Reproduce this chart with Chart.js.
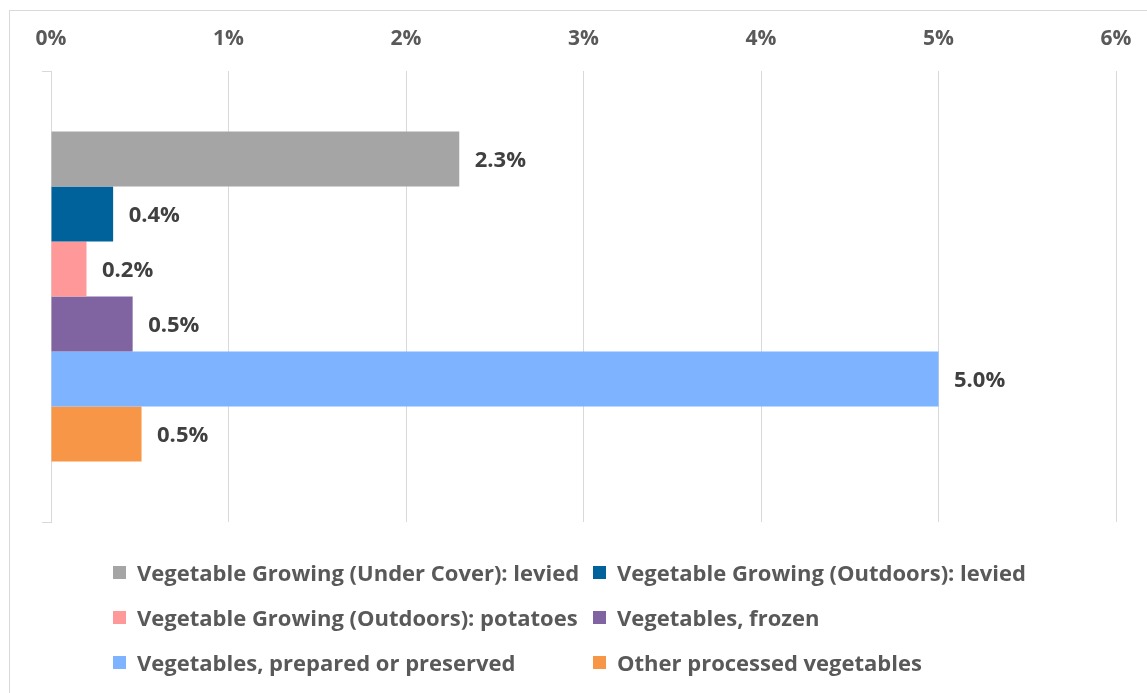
<!DOCTYPE html>
<html>
<head>
<meta charset="utf-8">
<script src="https://cdn.jsdelivr.net/npm/chart.js@4/dist/chart.umd.min.js"></script>
<style>
  html, body { margin: 0; padding: 0; background: #ffffff; }
  #wrap { position: relative; width: 1147px; height: 693px; overflow: hidden; font-family: "Open Sans", sans-serif; }
  #frame { position: absolute; left: 9px; top: 10px; width: 1300px; height: 900px; border: 1px solid #d9d9d9; box-sizing: border-box; }
  #chart { position: absolute; left: 0; top: 0; }
  #legend { position: absolute; left: 0; top: 0; width: 1147px; height: 693px; pointer-events: none; }
  .item { position: absolute; display: flex; align-items: center; transform: translateY(-50%);
          font-weight: 700; font-size: 22px; color: #595959; white-space: nowrap; }
  .box { width: 13px; height: 13px; margin-right: 11px; flex: none; }
</style>
</head>
<body>
<div id="wrap">
  <div id="frame"></div>
  <canvas id="chart" width="1147" height="693"></canvas>
  <div id="legend"></div>
</div>
<script>
// Levy share by sector
const categories = [''];
const seriesNames = [
  'Vegetable Growing (Under Cover): levied',
  'Vegetable Growing (Outdoors): levied',
  'Vegetable Growing (Outdoors): potatoes',
  'Vegetables, frozen',
  'Vegetables, prepared or preserved',
  'Other processed vegetables'
];
const seriesValues = [2.3, 0.35, 0.2, 0.46, 5.0, 0.51];
const seriesColors = ['#A5A5A5', '#00629B', '#FF9999', '#8064A2', '#7EB3FF', '#F79646'];
const tickLabels = ['0%', '1%', '2%', '3%', '4%', '5%', '6%'];

const FONT = '"Open Sans", sans-serif';
const fmtPct = v => (Math.round(v * 10 + 1e-6) / 10).toFixed(1) + '%';

// Value labels to the right of each bar
const valueLabels = {
  id: 'valueLabels',
  afterDatasetsDraw(chart) {
    const ctx = chart.ctx;
    ctx.save();
    ctx.font = 'bold 22px ' + FONT;
    ctx.fillStyle = '#404040';
    ctx.textAlign = 'left';
    ctx.textBaseline = 'middle';
    chart.data.datasets.forEach((ds, i) => {
      chart.getDatasetMeta(i).data.forEach((el, j) => {
        ctx.fillText(fmtPct(ds.data[j]), el.x + 15.5, el.y + 1.5);
      });
    });
    ctx.restore();
  }
};

const datasets = seriesNames.map((name, i) => ({
  label: name,
  data: [seriesValues[i]],
  backgroundColor: seriesColors[i],
  borderWidth: 0,
  categoryPercentage: 0.732,
  barPercentage: 1
}));

new Chart(document.getElementById('chart'), {
  type: 'bar',
  data: { labels: categories, datasets },
  options: {
    indexAxis: 'y',
    responsive: false,
    animation: false,
    devicePixelRatio: 1,
    layout: { padding: { left: 42, right: 31, top: 23, bottom: 171 } },
    plugins: { legend: { display: false }, tooltip: { enabled: false } },
    scales: {
      x: {
        position: 'top',
        min: 0,
        max: 6,
        ticks: {
          stepSize: 1,
          padding: 3,
          color: '#595959',
          font: { family: FONT, size: 21, weight: 'bold' },
          callback: (v, idx) => tickLabels[idx]
        },
        grid: { color: '#d9d9d9', lineWidth: 1, drawTicks: true, tickLength: 17, tickColor: 'rgba(0,0,0,0)' },
        border: { display: false }
      },
      y: {
        ticks: { display: false },
        grid: { drawOnChartArea: false, color: '#d9d9d9', tickLength: 9, offset: true },
        border: { color: '#d9d9d9' }
      }
    }
  },
  plugins: [valueLabels]
});

// Two-column legend below the plot
const legendEl = document.getElementById('legend');
const colX = [113, 593];
const rowY = [572, 617, 662];
seriesNames.forEach((name, i) => {
  const item = document.createElement('div');
  item.className = 'item';
  item.style.left = colX[i % 2] + 'px';
  item.style.top = rowY[Math.floor(i / 2)] + 'px';
  const box = document.createElement('span');
  box.className = 'box';
  box.style.background = seriesColors[i];
  const txt = document.createElement('span');
  txt.textContent = name;
  item.appendChild(box);
  item.appendChild(txt);
  legendEl.appendChild(item);
});
</script>
</body>
</html>
